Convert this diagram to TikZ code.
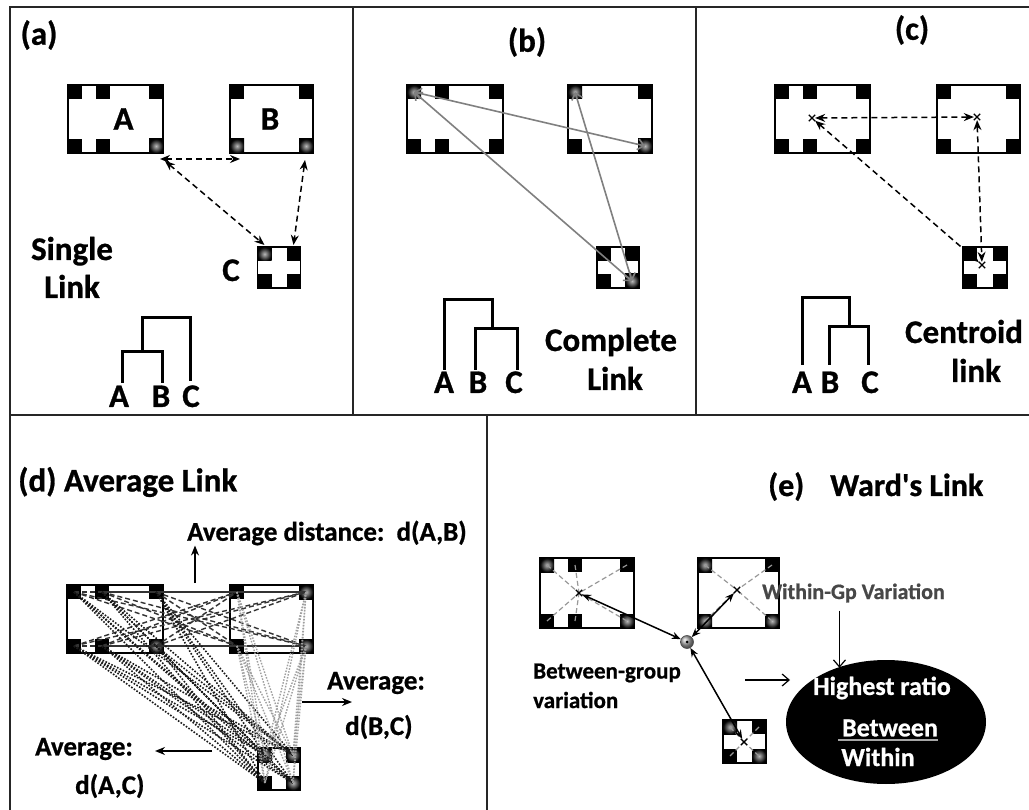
\documentclass[tikz,border=0pt]{standalone}
\usepackage{fontspec}
\setmainfont{Carlito}[BoldFeatures={FakeBold=0.8}]
\usetikzlibrary{arrows.meta,shapes.geometric,shapes.misc}

% corner squares of a cluster box: name, styles for tl, tr, bl, br
\newcommand\fourcorners[5]{%
  \node[#2,anchor=north west] (#1tl) at (#1.north west) {};
  \node[#3,anchor=north east] (#1tr) at (#1.north east) {};
  \node[#4,anchor=south west] (#1bl) at (#1.south west) {};
  \node[#5,anchor=south east] (#1br) at (#1.south east) {};}
% the two extra squares of a six-point cluster
\newcommand\midpair[3]{%
  \node[#2,anchor=north west] (#1tm) at ([xshift=28pt]#1.north west) {};
  \node[#3,anchor=south west] (#1bm) at ([xshift=28pt]#1.south west) {};}

\tikzset{
  panelline/.style={line width=2pt, draw=black!85},
  clbox/.style={draw, line width=1.3pt, inner sep=0pt, outer sep=0pt, fill=white},
  sq/.style={fill=black, minimum size=14pt, inner sep=0pt, outer sep=0pt},
  gq/.style={shading=radial, inner color=gray!55, outer color=black, minimum size=14pt, inner sep=0pt, outer sep=0pt},
  bigtxt/.style={font=\bfseries\fontsize{33}{36}\selectfont, inner sep=0pt},
  midtxt/.style={font=\bfseries\fontsize{27}{30}\selectfont, inner sep=0pt},
  smalltxt/.style={font=\bfseries\fontsize{23}{26}\selectfont, inner sep=0pt},
  ovaltxt/.style={font=\bfseries\fontsize{26}{28}\selectfont, inner sep=0pt, text=white},
  dend/.style={line width=3pt},
  dsh/.style={dashed, dash pattern=on 6pt off 4pt, line width=1.5pt,
    {Stealth[length=10pt,width=8pt]}-{Stealth[length=10pt,width=8pt]}},
  gryarr/.style={draw=gray, line width=1.6pt,
    {Straight Barb[length=6pt,width=11pt]}-{Straight Barb[length=6pt,width=11pt]}},
  abline/.style={dash pattern=on 5pt off 3pt, line width=1.4pt, draw=black!80},
  acline/.style={dash pattern=on 1.6pt off 1.6pt, line width=1.6pt, draw=black!90},
  bcline/.style={dash pattern=on 1.5pt off 1.5pt, line width=1.4pt, draw=gray!75},
  wline/.style={dash pattern=on 5pt off 3pt, line width=1.2pt, draw=gray!80},
  xm/.style={cross out, draw, minimum size=5pt, inner sep=0pt, line width=1.3pt},
  solarr/.style={line width=1.5pt, {Stealth[length=9pt,width=7pt]}-{Stealth[length=9pt,width=7pt]}},
  darr/.style={line width=1.5pt, -{Stealth[length=10pt,width=8pt]}},
  thinarr/.style={line width=1.2pt, -{Straight Barb[length=7pt,width=12pt]}},
  blob/.style={circle, minimum size=13pt, inner sep=0pt, ball color=gray!70, draw=black!70, line width=0.6pt}
}

\begin{document}
\begin{tikzpicture}[x=1pt,y=-1pt]
\useasboundingbox (0,0) rectangle (1029,810);
\fill[white] (0,0) rectangle (1029,810);

% panel frames
\draw[panelline] (10,810) -- (10,7) -- (1029,7);
\draw[panelline] (353,7) -- (353,415);
\draw[panelline] (696,7) -- (696,415);
\draw[panelline] (10,415) -- (1029,415);
\draw[panelline] (487,415) -- (487,810);

% ---------------- (a) single link ----------------
\node[bigtxt] (aT) at (39,35) {(a)};
\node[clbox, minimum width=95, minimum height=68] (aA) at (115.5,119) {};
\fourcorners{aA}{sq}{sq}{sq}{gq}\midpair{aA}{sq}{sq}
\node[clbox, minimum width=83, minimum height=68] (aB) at (271.5,119) {};
\fourcorners{aB}{sq}{sq}{gq}{gq}
\node[clbox, minimum width=43, minimum height=41] (aC) at (279,267.5) {};
\fourcorners{aC}{gq}{sq}{sq}{sq}
\node[bigtxt] (aAl) at (123.5,119) {A};
\node[bigtxt] (aBl) at (270,119) {B};
\node[bigtxt, anchor=base] (aCl) at (231,281) {C};
\draw[dsh] ([xshift=-3pt,yshift=-6pt]aAbr.south east) -- ([xshift=-4pt,yshift=-6pt]aBbl.south east);
\draw[dsh] ([xshift=2pt,yshift=-8pt]aAbr.south east) -- ([yshift=2pt]aCtl.north);
\draw[dsh] ([xshift=-1pt,yshift=-7pt]aBbr.south) -- ([yshift=2pt]aCtr.north);
\node[bigtxt, anchor=base] (aSg) at (72,260) {Single};
\node[bigtxt, anchor=base] (aLk) at (72,298) {Link};
\draw[dend] (122,383) -- (122,352) -- (162,352) -- (162,383);
\draw[dend] (142,352) -- (142,318) -- (190,318) -- (190,381);
\node[bigtxt, anchor=base] (aLa) at (119,407) {A};
\node[bigtxt, anchor=base] (aLb) at (161,407) {B};
\node[bigtxt, anchor=base] (aLc) at (191,407) {C};

% ---------------- (b) complete link ----------------
\node[bigtxt] (bT) at (527,42) {(b)};
\node[clbox, minimum width=96, minimum height=68] (bA) at (455,119) {};
\fourcorners{bA}{gq}{sq}{sq}{sq}\midpair{bA}{sq}{sq}
\node[clbox, minimum width=84, minimum height=68] (bB) at (610,119) {};
\fourcorners{bB}{gq}{sq}{sq}{gq}
\node[clbox, minimum width=42, minimum height=41] (bC) at (618,267.5) {};
\fourcorners{bC}{sq}{sq}{sq}{gq}
\draw[gryarr] (bAtl.center) -- (bBbr.center);
\draw[gryarr] (bAtl.center) -- (bCbr.center);
\draw[gryarr] (bBtl.center) -- (bCbr.center);
\draw[dend] (444,370) -- (444,300) -- (492,300) -- (492,329);
\draw[dend] (475,370) -- (475,329) -- (517,329) -- (517,370);
\node[bigtxt, anchor=base] (bLa) at (444,393) {A};
\node[bigtxt, anchor=base] (bLb) at (478,393) {B};
\node[bigtxt, anchor=base] (bLc) at (514,393) {C};
\node[bigtxt, anchor=base] (bCp) at (611,351) {Complete};
\node[bigtxt, anchor=base] (bLk) at (615,390) {Link};

% ---------------- (c) centroid link ----------------
\node[bigtxt] (cT) at (912,30) {(c)};
\node[clbox, minimum width=95, minimum height=68] (cA) at (822.5,119) {};
\fourcorners{cA}{sq}{sq}{sq}{sq}\midpair{cA}{sq}{sq}
\node[clbox, minimum width=83, minimum height=68] (cB) at (978.5,119) {};
\fourcorners{cB}{sq}{sq}{sq}{sq}
\node[clbox, minimum width=44, minimum height=41] (cC) at (985,267.5) {};
\fourcorners{cC}{sq}{sq}{sq}{sq}
\node[xm] (cAx) at (812,118) {};
\node[xm] (cBx) at (977,117) {};
\node[xm] (cCx) at (982,265) {};
\draw[dsh] (cAx) -- (cBx);
\draw[dsh] (cAx) -- (cCx);
\draw[dsh] (cBx) -- (cCx);
\draw[dend] (802,365) -- (802,298) -- (849,298) -- (849,327);
\draw[dend] (829,365) -- (829,327) -- (868,327) -- (868,365);
\node[bigtxt, anchor=base] (cLa) at (802,393) {A};
\node[bigtxt, anchor=base] (cLb) at (830,393) {B};
\node[bigtxt, anchor=base] (cLc) at (870,393) {C};
\node[bigtxt, anchor=base] (cCt) at (964,343) {Centroid};
\node[bigtxt, anchor=base] (cLk) at (976,382) {link};

% ---------------- (d) average link ----------------
\node[bigtxt, anchor=west] (dT) at (18,482) {(d) Average Link};
\node[midtxt, anchor=west] (dAB) at (187,533) {Average distance:\ \ d(A,B)};
\node[clbox, minimum width=96, minimum height=68] (dA) at (115,619) {};
\fourcorners{dA}{sq}{sq}{sq}{gq}\midpair{dA}{sq}{sq}
\node[clbox, minimum width=83, minimum height=68] (dB) at (271.5,619) {};
\fourcorners{dB}{sq}{gq}{sq}{gq}
\node[clbox, minimum width=42, minimum height=42] (dC) at (279,769) {};
\fourcorners{dC}{gq}{gq}{sq}{gq}
\foreach \a in {tl,tm,tr,bl,bm,br}{
  \foreach \b in {tl,tr,bl,br}{\draw[abline] (dA\a.center) -- (dB\b.center);}}
\foreach \a in {tl,tm,tr,bl,bm,br}{
  \foreach \c in {tl,tr,bl,br}{\draw[acline] (dA\a.center) -- (dC\c.center);}}
\foreach \b in {tl,tr,bl,br}{
  \foreach \c in {tl,tr,bl,br}{\draw[bcline] (dB\b.center) -- (dC\c.center);}}
\coordinate (dUp) at (195,583);
\draw[darr] (dUp) -- (dUp |- dAB.south);
\node[midtxt, anchor=west] (dAvR) at (327,683) {Average:};
\node[midtxt, anchor=west] (dBC) at (345,727) {d(B,C)};
\coordinate (dRt) at (302,702);
\coordinate (dRh) at (352,702);
\draw[darr] (dRt) -- (dRh);
\node[midtxt, anchor=west] (dAvL) at (35,749) {Average:};
\node[midtxt, anchor=west] (dAC) at (75,786) {d(A,C)};
\coordinate (dLt) at (212,751);
\coordinate (dLh) at (155,751);
\draw[darr] (dLt) -- (dLh);

% ---------------- (e) Ward's link ----------------
\node[bigtxt, anchor=base west, font=\bfseries\fontsize{32}{34}\selectfont] (eT) at (768,496) {(e)};
\node[bigtxt, anchor=base west, font=\bfseries\fontsize{32}{34}\selectfont] (eW) at (830,496) {Ward\textquotesingle s Link};
\node[clbox, minimum width=94, minimum height=70] (eA) at (587,593) {};
\fourcorners{eA}{gq}{sq}{sq}{gq}\midpair{eA}{sq}{sq}
\node[clbox, minimum width=81, minimum height=70] (eB) at (738.5,593) {};
\fourcorners{eB}{gq}{sq}{gq}{gq}
\node[clbox, minimum width=43, minimum height=43] (eC) at (744.5,741.5) {};
\fourcorners{eC}{gq}{sq}{sq}{gq}
\coordinate (eAc) at (579,593);
\coordinate (eBc) at (737,590);
\coordinate (eCc) at (744,742);
\foreach \s in {tl,tm,tr,bl,bm,br}{\draw[wline] (eA\s.center) -- (eAc);}
\foreach \s in {tl,tr,bl,br}{\draw[wline] (eB\s.center) -- (eBc);}
\foreach \s in {tl,tr,bl,br}{\draw[wline] (eC\s.center) -- (eCc);}
\node[xm] (eAx) at (eAc) {};
\node[xm] (eBx) at (eBc) {};
\node[xm] (eCx) at (eCc) {};
\node[blob] (eO) at (687,642) {};
\fill (eO.center) circle (1.5pt);
\draw[solarr] (eAx) -- (eO);
\draw[solarr] (eBx) -- (eO);
\draw[solarr] (eCx) -- (eO);
\node[anchor=west, inner sep=0pt, text=black!72, font=\bfseries\fontsize{22}{24}\selectfont] (eWg) at (762,593) {Within-Gp Variation};
\node[smalltxt, anchor=west] (eBg) at (533,673) {Between-group};
\node[smalltxt, anchor=west] (eVr) at (533,700) {variation};
\node[ellipse, fill=black, minimum width=200, minimum height=124, inner sep=0pt] (eR) at (886,722) {};
\node[ovaltxt] (eHr) at (882,688) {Highest ratio};
\node[ovaltxt] (eBt) at (890,728) {Between};
\node[ovaltxt] (eWi) at (878,757) {Within};
\draw[gray!70, line width=1.6pt] ([xshift=-4pt,yshift=-3pt]eBt.south west) -- ([yshift=-3pt]eBt.south east);
\draw[thinarr] ([xshift=-14pt,yshift=-8pt]eWg.south) -- ([xshift=-14pt,yshift=-8pt]eWg.south |- eR.north);
\coordinate (eGt) at (745,680);
\coordinate (eGh) at (790,680);
\draw[thinarr] (eGt) -- (eGh);
\end{tikzpicture}
\end{document}
